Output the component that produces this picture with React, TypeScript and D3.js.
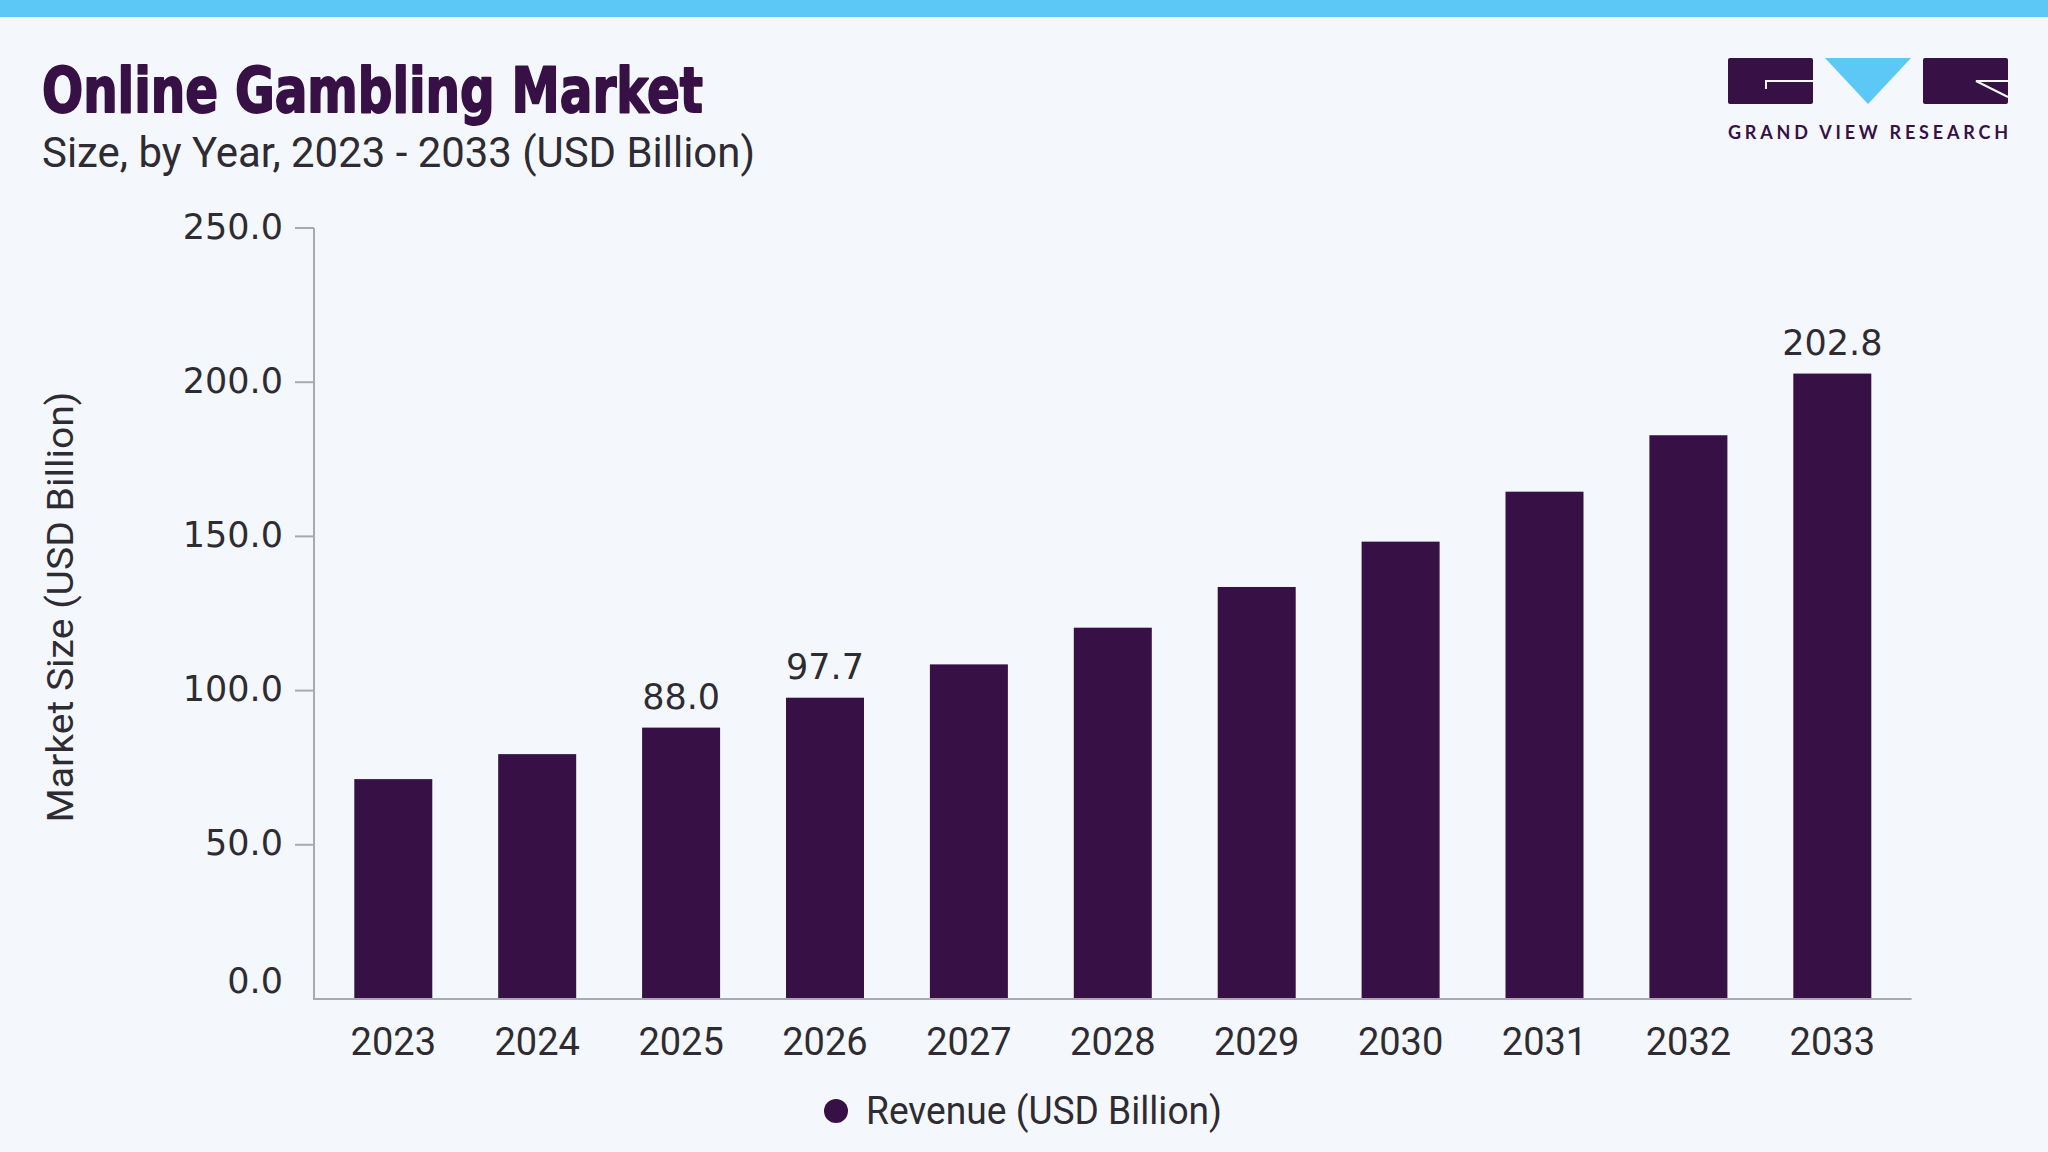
import React, { useEffect } from 'react';
import { scaleBand, scaleLinear } from 'd3';

const years = ['2023', '2024', '2025', '2026', '2027', '2028', '2029', '2030', '2031', '2032', '2033'];
const revenue = [71.3, 79.4, 88.0, 97.7, 108.5, 120.4, 133.6, 148.3, 164.5, 182.8, 202.8];
const labeledYears = ['2025', '2026', '2033'];
const yTicks = [0, 50, 100, 150, 200, 250];

const W = 2048;
const H = 1152;
const BG = '#F4F8FC';
const PURPLE = '#371046';
const SKY = '#5BC8F5';
const TEXT = '#2F2B33';
const AXIS = '#A7ABAF';

const App: React.FC = () => {
  useEffect(() => {
    document.body.style.margin = '0';
  }, []);

  const x = scaleBand<string>()
    .domain(years)
    .range([314, 1911.6])
    .paddingInner(0.458)
    .paddingOuter(0.28);

  const y = scaleLinear().domain([0, 250]).range([999, 228]);

  return (
    <svg width={W} height={H} style={{ display: 'block' }}>
      <rect width={W} height={H} fill={BG} />
      <rect width={W} height={17} fill={SKY} />

      {/* header */}
      <text x={42} y={112} fontFamily="'DejaVu Sans Condensed', 'DejaVu Sans'" fontWeight="bold"
        fontSize={63} fill={PURPLE} stroke={PURPLE} strokeWidth={1.8} strokeLinejoin="round"
        textLength={661} lengthAdjust="spacingAndGlyphs">
        Online Gambling Market
      </text>
      <text x={42} y={167} fontFamily="Roboto" fontSize={42} fill={TEXT}
        textLength={713} lengthAdjust="spacingAndGlyphs">
        Size, by Year, 2023 - 2033 (USD Billion)
      </text>

      {/* logo */}
      <g>
        <rect x={1728} y={58} width={85} height={46} rx={2} fill={PURPLE} />
        <polyline points="1766,89 1766,81 1813,81" fill="none" stroke={BG} strokeWidth={2} />
        <polygon points="1825,58 1911,58 1868,104" fill={SKY} />
        <rect x={1923} y={58} width={85} height={46} rx={2} fill={PURPLE} />
        <polyline points="2008,81 1976,81 2008,97" fill="none" stroke={BG} strokeWidth={2} />
        <text x={1728} y={139} fontFamily="Lato" fontWeight={700} fontSize={18} fill={PURPLE}
          textLength={280} lengthAdjust="spacing">
          GRAND VIEW RESEARCH
        </text>
      </g>

      {/* y axis */}
      <line x1={314} x2={314} y1={y(250)} y2={y(0)} stroke={AXIS} strokeWidth={2} />
      {yTicks.map((t) => (
        <g key={t}>
          {t > 0 && <line x1={295} x2={314} y1={y(t)} y2={y(t)} stroke={AXIS} strokeWidth={2} />}
          <text x={283} y={y(t) - (t === 0 ? 17 : 0)} dy="0.3em" textAnchor="end"
            fontFamily="'DejaVu Sans'" fontSize={35} fill={TEXT}>
            {t.toFixed(1)}
          </text>
        </g>
      ))}
      <text transform="translate(73,607) rotate(-90)" textAnchor="middle" fontFamily="Roboto"
        fontSize={36} fill={TEXT} textLength={431} lengthAdjust="spacingAndGlyphs">
        Market Size (USD Billion)
      </text>

      {/* bars */}
      {years.map((yr, i) => (
        <rect key={yr} x={x(yr)} y={y(revenue[i])} width={x.bandwidth()}
          height={y(0) - y(revenue[i])} fill={PURPLE} />
      ))}
      {years.map((yr, i) =>
        labeledYears.includes(yr) ? (
          <text key={'l' + yr} x={(x(yr) ?? 0) + x.bandwidth() / 2} y={y(revenue[i]) - 19}
            textAnchor="middle" fontFamily="'DejaVu Sans'" fontSize={35} fill={TEXT}>
            {revenue[i].toFixed(1)}
          </text>
        ) : null
      )}

      {/* x axis */}
      <line x1={313} x2={1911.6} y1={y(0)} y2={y(0)} stroke={AXIS} strokeWidth={2} />
      {years.map((yr) => (
        <text key={'x' + yr} x={(x(yr) ?? 0) + x.bandwidth() / 2} y={1055} textAnchor="middle"
          fontFamily="Roboto" fontSize={38} fill={TEXT}>
          {yr}
        </text>
      ))}

      {/* legend */}
      <circle cx={836} cy={1111} r={12} fill={PURPLE} />
      <text x={866} y={1124} fontFamily="Roboto" fontSize={38} fill={TEXT}
        textLength={356} lengthAdjust="spacingAndGlyphs">
        Revenue (USD Billion)
      </text>
    </svg>
  );
};

export default App;
